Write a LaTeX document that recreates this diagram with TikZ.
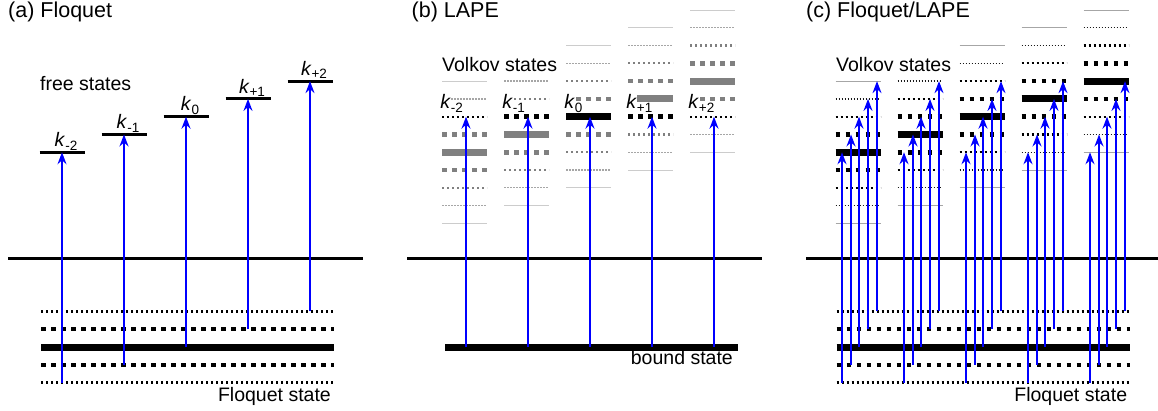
\documentclass[tikz,border=0pt]{standalone}
\usepackage{fontspec}
\setmainfont{Liberation Sans}
\usetikzlibrary{arrows.meta}
% level colours: LAPE ladders (vb) and Floquet/LAPE ladders (vc), by |offset|
\colorlet{vb0}{black!50}
\colorlet{vb1}{black!50}
\colorlet{vb2}{black!50}
\colorlet{vb3}{black!35}
\colorlet{vb4}{black!20}
\colorlet{vc0}{black}
\colorlet{vc1}{black}
\colorlet{vc2}{black}
\colorlet{vc3}{black!90}
\colorlet{vc4}{black!35}
\newcommand\ksub[1]{\raisebox{-3.6pt}{\fontsize{13.5}{14}\selectfont #1}}
\begin{document}
\begin{tikzpicture}[x=1pt,y=-1pt,
  lbl/.style={font=\fontsize{19.5}{22}\selectfont, inner sep=0pt},
  ttl/.style={font=\fontsize{21.5}{24}\selectfont, inner sep=0pt, anchor=base west},
  lv0/.style={line width=7pt},
  lv1/.style={line width=4.5pt, dash pattern=on 4.5pt off 5.5pt},
  lv2/.style={line width=2.2pt, dash pattern=on 2.2pt off 2.8pt},
  lv3/.style={line width=1.3pt, dash pattern=on 1.5pt off 1.5pt},
  lv4/.style={line width=0.9pt},
  klevel/.style={line width=3pt},
  threshold/.style={line width=2.7pt},
  photon/.style={draw=blue, line width=1.6pt, -{Stealth[length=12pt,width=9pt,inset=4pt,fill=blue]}},
]
\useasboundingbox (0,0) rectangle (1158,411);

% panel titles
\node[ttl] (ta) at (8,17.5) {(a) Floquet};
\node[ttl] (tb) at (411.5,17.5) {(b) LAPE};
\node[ttl] (tc) at (806,17.5) {(c) Floquet/LAPE};

% continuum thresholds
\draw[threshold] (8,258.3) -- (363,258.3);
\draw[threshold] (407,258.7) -- (762,258.7);
\draw[threshold] (806,258.3) -- (1158,258.3);

% ---------- (a) Floquet ----------
\foreach \m in {-2,...,2}{
  \pgfmathsetmacro{\yy}{347-17.78*\m}
  \pgfmathtruncatemacro{\a}{abs(\m)}
  \draw[lv\a] (41,\yy) -- (334,\yy);
}
\foreach \s [count=\j from 0] in {-2,-1,0,+1,+2}{
  \pgfmathsetmacro{\xc}{62+62*\j}
  \pgfmathsetmacro{\yk}{116.7+17.78*(2-\j)}
  \pgfmathsetmacro{\yf}{347+17.78*(2-\j)}
  \draw[klevel] (\xc-22.5,\yk) -- (\xc+22.5,\yk);
  \node[lbl, anchor=base] (la\j) at (\xc+4,\yk-5.8) {\textit{k}\ksub{\s}};
  \coordinate (fa\j) at (\xc,\yf);
  \coordinate (ka\j) at (\xc,\yk);
}
\node[lbl, anchor=base west] (free) at (40,90.5) {free states};
\node[lbl, anchor=base east] (flqa) at (331,401.5) {Floquet state};

% ---------- (b) LAPE ----------
\foreach \s [count=\j from 0] in {-2,-1,0,+1,+2}{
  \pgfmathsetmacro{\xl}{442+62*\j}
  \foreach \n in {-4,...,4}{
    \pgfmathsetmacro{\yy}{116.7+17.78*(2-\j+\n)}
    \pgfmathtruncatemacro{\a}{abs(\n)}
    \ifnum\n=\numexpr\j-2\relax \edef\cc{black}\else\edef\cc{vb\a}\fi
    \draw[lv\a, draw=\cc] (\xl,\yy) -- (\xl+45,\yy);
  }
  \node[lbl, fill=white, anchor=base west] (lb\j) at (\xl-1.8,108.8)
    {\textit{k}\rlap{\ksub{\s}}};
  \coordinate (bs\j) at (\xl+24,347);
  \coordinate (bk\j) at (\xl+24,116.7);
}
\draw[lv0] (445,347) -- (738,347);
\node[lbl, fill=white, anchor=base west] (volb) at (442,72) {Volkov states};
\node[lbl, anchor=base east] (bnd) at (733,364) {bound state};

% ---------- (c) Floquet/LAPE ----------
\foreach \m in {-2,...,2}{
  \pgfmathsetmacro{\yy}{347-17.78*\m}
  \pgfmathtruncatemacro{\a}{abs(\m)}
  \draw[lv\a] (836.7,\yy) -- (1130,\yy);
}
\foreach \j in {0,...,4}{
  \pgfmathsetmacro{\xl}{835.7+62*\j}
  \foreach \n in {-4,...,4}{
    \pgfmathsetmacro{\yy}{116.7+17.78*(2-\j+\n)}
    \pgfmathtruncatemacro{\a}{abs(\n)}
    \draw[lv\a, draw=vc\a] (\xl,\yy) -- (\xl+45,\yy);
  }
  \foreach \i in {0,...,4}{
    \pgfmathtruncatemacro{\xa}{round(\xl+6+8.8*\i)}
    \coordinate (fc\j\i) at (\xa,{347-17.78*(\i-2)});
    \coordinate (vc\j\i) at (\xa,{116.7-17.78*(\i-2)});
  }
}
\node[lbl, fill=white, anchor=base west] (volc) at (836,71.5) {Volkov states};
\node[lbl, anchor=base east] (flqc) at (1127.3,401.5) {Floquet state};

% ---------- photon absorption arrows ----------
\foreach \j in {0,...,4}{
  \draw[photon] (fa\j) -- (ka\j);
  \draw[photon] (bs\j) -- (bk\j);
  \foreach \i in {0,...,4}{
    \draw[photon] (fc\j\i) -- (vc\j\i);
  }
}
\end{tikzpicture}
\end{document}
